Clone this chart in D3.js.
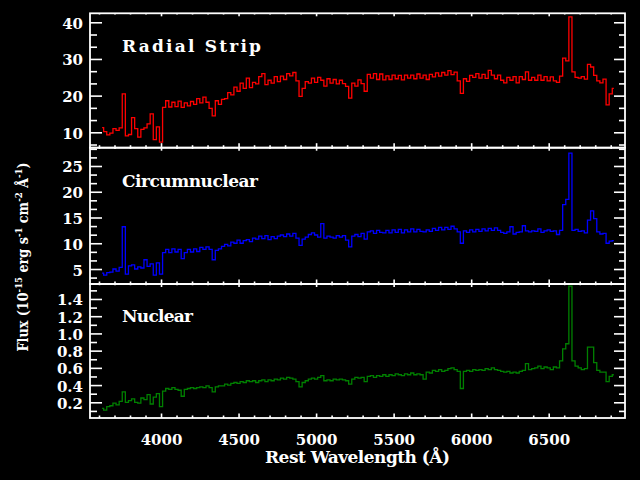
<!DOCTYPE html>
<html>
<head>
<meta charset="utf-8">
<script src="https://cdn.jsdelivr.net/npm/d3@7"></script>
<style>
    html, body { margin: 0; padding: 0; background: #000; }
    svg { display: block; }
</style>
</head>
<body>
<script>
// wavelength grid (Angstrom), one sample every 20 A
const wavelengths = d3.range(3620, 6921, 20)

const radialStrip = [
    11.3, 10.2, 9.3, 9.8, 11.0, 10.5, 11.2, 20.5, 9.0, 9.4,
    14.0, 11.0, 8.7, 10.8, 11.2, 12.3, 15.0, 8.0, 11.5, 7.3,
    16.8, 18.6, 16.9, 18.2, 17.0, 18.5, 16.8, 18.0, 17.2, 18.4,
    17.6, 19.2, 18.0, 19.6, 18.2, 16.5, 14.5, 18.6, 17.6, 19.0,
    19.2, 20.8, 20.2, 22.3, 21.2, 23.4, 22.0, 24.8, 22.2, 23.6,
    23.2, 25.2, 26.0, 23.0, 24.2, 23.4, 25.2, 23.8, 25.3, 24.4,
    26.0, 25.4, 26.3, 24.0, 19.8, 22.0, 23.8, 23.4, 24.8, 23.6,
    25.0, 24.2, 22.6, 24.6, 23.4, 24.4, 23.2, 24.2, 23.3, 22.5,
    19.3, 23.4, 22.6, 24.3, 23.3, 21.2, 25.8, 24.8, 26.0, 24.4,
    25.9, 24.3, 25.4, 24.4, 25.6, 24.6, 25.5, 24.3, 25.6, 24.8,
    25.6, 24.6, 25.9, 24.8, 25.6, 24.4, 25.8, 25.1, 26.2, 25.3,
    26.3, 25.6, 26.8, 25.7, 26.4, 24.0, 20.6, 24.6, 23.9, 25.5,
    25.0, 26.0, 24.8, 25.8, 24.7, 26.9, 25.6, 24.6, 25.6, 24.2,
    23.5, 25.0, 24.2, 25.2, 23.5, 25.2, 24.4, 26.5, 24.2, 25.0,
    24.2, 25.6, 24.2, 25.2, 24.0, 25.1, 24.0, 23.6, 25.3, 30.2,
    29.5, 41.5, 26.5, 25.0, 24.8, 25.2, 24.5, 28.5, 27.8, 25.5,
    24.0, 23.5, 24.5, 17.5, 20.5, 22.0
]

const circumnuclear = [
    4.2, 3.8, 4.3, 4.4, 5.0, 4.6, 5.3, 13.2, 4.0, 5.6,
    5.8, 5.0, 5.4, 5.2, 6.8, 5.5, 6.0, 3.8, 6.2, 4.0,
    8.2, 8.8, 8.2, 8.9, 8.3, 8.8, 7.0, 8.2, 8.8, 8.3,
    8.9, 8.4, 9.2, 8.8, 9.3, 8.8, 6.8, 8.6, 8.9, 9.4,
    9.8, 9.5, 10.2, 10.0, 10.6, 10.0, 10.5, 10.7, 10.3, 11.0,
    10.8, 11.4, 10.9, 11.5, 10.7, 11.3, 10.9, 11.4, 11.6, 11.3,
    11.8, 11.4, 11.9, 11.0, 9.6, 10.8, 11.2, 11.7, 12.0, 11.6,
    11.2, 13.8, 11.0, 11.4, 11.2, 11.0, 11.5, 11.2, 11.5, 10.6,
    9.3, 11.4, 11.7, 11.3, 11.9, 10.8, 12.2, 12.4, 11.9, 12.5,
    12.1, 12.0, 12.5, 12.0, 12.6, 12.1, 12.7, 12.0, 12.6, 12.2,
    12.8, 12.2, 12.7, 12.3, 12.2, 12.6, 12.3, 12.9, 12.5, 13.1,
    12.6, 13.1, 12.7, 13.3, 12.8, 12.2, 10.0, 12.4, 12.1, 12.6,
    12.2, 12.7, 12.3, 12.8, 12.4, 12.9, 12.5, 13.0, 12.5, 12.1,
    11.9, 12.2, 13.2, 11.8, 12.1, 12.2, 13.4, 12.4, 12.2, 12.4,
    12.3, 12.8, 12.1, 12.4, 12.6, 12.3, 12.4, 11.7, 12.5, 17.5,
    18.5, 27.5, 12.5, 12.7, 12.3, 12.4, 12.0, 14.5, 16.3, 14.8,
    12.2, 11.8, 11.9, 10.0, 10.4, 10.5
]

const nuclear = [
    0.13, 0.11, 0.15, 0.16, 0.19, 0.17, 0.21, 0.32, 0.20, 0.22,
    0.24, 0.20, 0.19, 0.25, 0.23, 0.29, 0.18, 0.26, 0.30, 0.15,
    0.33, 0.36, 0.35, 0.37, 0.35, 0.34, 0.27, 0.35, 0.36, 0.37,
    0.36, 0.37, 0.38, 0.37, 0.39, 0.37, 0.32, 0.38, 0.39, 0.39,
    0.41, 0.40, 0.42, 0.43, 0.42, 0.44, 0.43, 0.45, 0.44, 0.45,
    0.43, 0.45, 0.46, 0.44, 0.46, 0.45, 0.47, 0.46, 0.48, 0.47,
    0.49, 0.48, 0.47, 0.44, 0.38, 0.43, 0.45, 0.47, 0.48, 0.47,
    0.49, 0.51, 0.45, 0.46, 0.45, 0.47, 0.46, 0.47, 0.46, 0.45,
    0.41, 0.47, 0.49, 0.48, 0.49, 0.44, 0.50, 0.51, 0.49, 0.51,
    0.50, 0.52, 0.50, 0.52, 0.51, 0.53, 0.52, 0.51, 0.53, 0.52,
    0.54, 0.52, 0.53, 0.52, 0.47, 0.55, 0.54, 0.57, 0.56, 0.58,
    0.56, 0.57, 0.59, 0.60, 0.58, 0.56, 0.36, 0.56, 0.57, 0.56,
    0.58, 0.57, 0.58, 0.57, 0.59, 0.58, 0.60, 0.58, 0.57, 0.56,
    0.55, 0.56, 0.54, 0.55, 0.54, 0.56, 0.57, 0.65, 0.58, 0.59,
    0.60, 0.62, 0.59, 0.61, 0.60, 0.58, 0.61, 0.60, 0.68, 0.82,
    0.88, 1.55, 0.68, 0.62, 0.60, 0.58, 0.59, 0.84, 0.84, 0.66,
    0.57, 0.55, 0.55, 0.44, 0.50, 0.52
]

const panelNames = ['Radial Strip', 'Circumnuclear', 'Nuclear']
const xTicks = [4000, 4500, 5000, 5500, 6000, 6500]
const yTicksRadial = [10, 20, 30, 40]
const yTicksCircum = [5, 10, 15, 20, 25]
const yTicksNuclear = [0.2, 0.4, 0.6, 0.8, 1.0, 1.2, 1.4]

const chart = {
    layout: {
        width: 640,
        height: 480,
        left: 90,
        right: 625,
        xDomain: [3542, 6992]
    },
    panels: [
        { top: 13.3, bottom: 147.7, domain: [5.8, 42.45], minorStep: 10 / 3, format: d3.format('d'), color: '#ff0000', labelY: 51.7, labelW: 139 },
        { top: 147.7, bottom: 284, domain: [2.09, 28.55], minorStep: 5 / 3, format: d3.format('d'), color: '#0000ff', labelY: 186.7, labelW: 136 },
        { top: 284, bottom: 418, domain: [0.0176, 1.574], minorStep: 0.1, format: d3.format('.1f'), color: '#008000', labelY: 322.3, labelW: 71 }
    ],
    font: "'DejaVu Serif', serif",
    scale: { x: null },
    init() {
        const series = [radialStrip, circumnuclear, nuclear]
        const yTicks = [yTicksRadial, yTicksCircum, yTicksNuclear]
        this.panels.forEach((p, i) => {
            p.name = panelNames[i]
            p.values = series[i]
            p.ticks = yTicks[i]
        })
        this.scale.x = d3.scaleLinear().domain(this.layout.xDomain).range([this.layout.left, this.layout.right])
    },
    minorTicks(domain, step, majors) {
        const out = []
        for (let k = Math.ceil(domain[0] / step - 1e-6); k * step <= domain[1] + 1e-9; k++) {
            const v = k * step
            if (!majors.some(m => Math.abs(m - v) < 1e-6)) out.push(v)
        }
        return out
    },
    draw(body) {
        this.init()
        const svg = d3.select(body)
            .append('svg')
            .attr('width', this.layout.width)
            .attr('height', this.layout.height)
            .attr('viewBox', `0 0 ${this.layout.width} ${this.layout.height}`)
            .style('background', '#000')

        this.panels.forEach((p, i) => this.drawPanel(svg, p, i === this.panels.length - 1))
        this.drawTitles(svg)
    },
    drawPanel(svg, p, isLast) {
        const x = this.scale.x
        const y = d3.scaleLinear().domain(p.domain).range([p.bottom, p.top])
        const L = this.layout
        const xMinor = d3.range(3600, 7000, 100).filter(v => v % 500 !== 0)
        const yMinor = this.minorTicks(p.domain, p.minorStep, p.ticks)

        const styleAxis = g => {
            g.select('.domain').remove()
            g.selectAll('line').attr('stroke', '#fff').attr('stroke-width', 1.6)
            g.selectAll('text').attr('fill', '#fff').style('font-family', this.font)
                .style('font-size', '15px').style('font-weight', 'bold')
        }

        // spectrum
        const line = d3.line().x(d => x(d[0])).y(d => y(d[1])).curve(d3.curveStep)
        svg.append('path')
            .datum(wavelengths.map((w, i) => [w, p.values[i]]))
            .attr('d', line)
            .attr('fill', 'none')
            .attr('stroke', p.color)
            .attr('stroke-width', 1.3)

        // left axis
        svg.append('g').attr('transform', `translate(${L.left},0)`)
            .call(d3.axisLeft(y).tickValues(p.ticks).tickSize(-12).tickSizeOuter(0).tickPadding(7).tickFormat(p.format))
            .call(styleAxis)
            .call(g => g.selectAll('text').attr('dy', '0.4em'))
        svg.append('g').attr('transform', `translate(${L.left},0)`)
            .call(d3.axisLeft(y).tickValues(yMinor).tickSize(-7).tickSizeOuter(0).tickFormat(''))
            .call(styleAxis)

        // right axis
        svg.append('g').attr('transform', `translate(${L.right},0)`)
            .call(d3.axisRight(y).tickValues(p.ticks).tickSize(-11).tickSizeOuter(0).tickFormat(''))
            .call(styleAxis)
        svg.append('g').attr('transform', `translate(${L.right},0)`)
            .call(d3.axisRight(y).tickValues(yMinor).tickSize(-6).tickSizeOuter(0).tickFormat(''))
            .call(styleAxis)

        // bottom axis
        svg.append('g').attr('transform', `translate(0,${p.bottom})`)
            .call(d3.axisBottom(x).tickValues(xTicks).tickSize(-4.5).tickSizeOuter(0).tickPadding(16)
                .tickFormat(isLast ? d3.format('d') : ''))
            .call(styleAxis)
        svg.append('g').attr('transform', `translate(0,${p.bottom})`)
            .call(d3.axisBottom(x).tickValues(xMinor).tickSize(-2.5).tickSizeOuter(0).tickFormat(''))
            .call(styleAxis)

        // top axis
        svg.append('g').attr('transform', `translate(0,${p.top})`)
            .call(d3.axisTop(x).tickValues(xTicks).tickSize(-3).tickSizeOuter(0).tickFormat(''))
            .call(styleAxis)
        svg.append('g').attr('transform', `translate(0,${p.top})`)
            .call(d3.axisTop(x).tickValues(xMinor).tickSize(-1.2).tickSizeOuter(0).tickFormat(''))
            .call(styleAxis)

        // frame
        svg.append('rect')
            .attr('x', L.left).attr('y', p.top)
            .attr('width', L.right - L.left).attr('height', p.bottom - p.top)
            .attr('fill', 'none').attr('stroke', '#fff').attr('stroke-width', 1.8)

        // panel label
        svg.append('text')
            .attr('x', 122).attr('y', p.labelY)
            .attr('textLength', p.labelW).attr('lengthAdjust', 'spacing')
            .attr('fill', '#fff')
            .style('font-family', this.font).style('font-size', '17px').style('font-weight', 'bold')
            .text(p.name)
    },
    drawTitles(svg) {
        const L = this.layout
        svg.append('text')
            .attr('x', (L.left + L.right) / 2).attr('y', 463)
            .attr('text-anchor', 'middle')
            .attr('textLength', 185).attr('lengthAdjust', 'spacing')
            .attr('fill', '#fff')
            .style('font-family', this.font).style('font-size', '17px').style('font-weight', 'bold')
            .text('Rest Wavelength (Å)')

        const t = svg.append('text')
            .attr('transform', 'translate(28,257) rotate(-90)')
            .attr('text-anchor', 'middle')
            .attr('textLength', 189).attr('lengthAdjust', 'spacingAndGlyphs')
            .attr('fill', '#fff')
            .style('font-family', this.font).style('font-size', '15px').style('font-weight', 'bold')
        const parts = [
            ['Flux (10', 0], ['-15', 1], [' erg s', 0], ['-1', 1], [' cm', 0], ['-2', 1], [' Å', 0], ['-1', 1], [')', 0]
        ]
        parts.forEach(([s, sup], i) => {
            const prev = i > 0 ? parts[i - 1][1] : 0
            t.append('tspan')
                .attr('dy', sup && !prev ? -6 : (!sup && prev ? 6 : 0))
                .style('font-size', sup ? '10px' : '15px')
                .text(s)
        })
    }
}

chart.draw(document.body)
</script>
</body>
</html>
